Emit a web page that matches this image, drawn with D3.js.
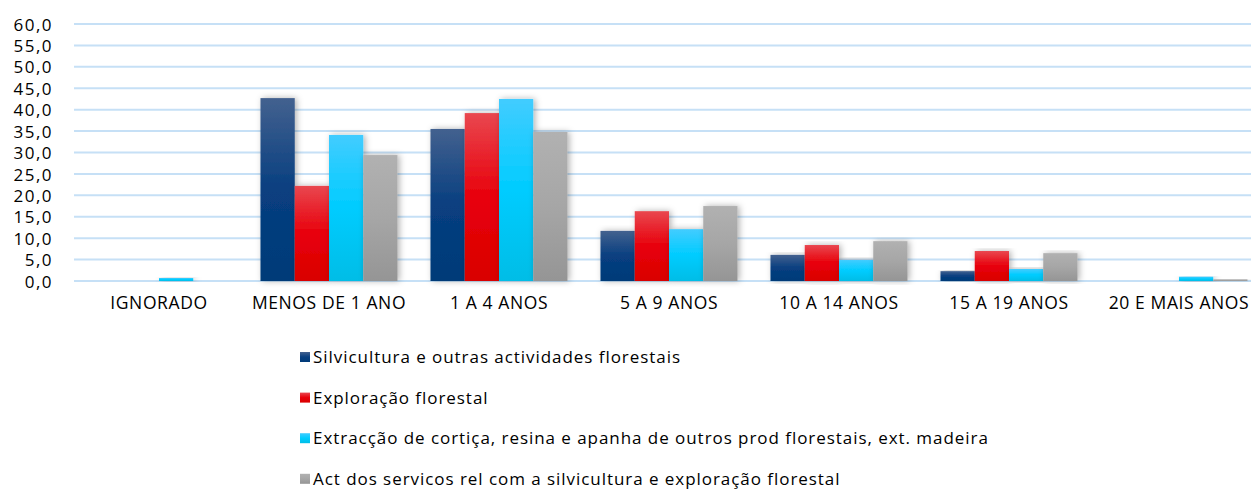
<!DOCTYPE html>
<html lang="pt">
  <head>
    <meta charset="utf-8">
    <script src="https://d3js.org/d3.v7.min.js"></script>
    <style>
      body { margin: 0; background: #fff; }
      text { font-family: "Open Sans", Lato, sans-serif; fill: #000; }
    </style>
  </head>
  <body>
    <script>

    // Data
    var categories = ["IGNORADO", "MENOS DE 1 ANO", "1 A 4 ANOS", "5 A 9 ANOS", "10 A 14 ANOS", "15 A 19 ANOS", "20 E MAIS ANOS"];
    var seriesNames = [
      "Silvicultura e outras actividades florestais",
      "Exploração florestal",
      "Extracção de cortiça, resina e apanha de outros prod florestais, ext. madeira",
      "Act dos servicos rel com a silvicultura e exploração florestal"
    ];
    var silvicultura = [0.0, 42.7, 35.5, 11.7, 6.1, 2.3, 0.0];
    var exploracao   = [0.0, 22.2, 39.2, 16.3, 8.4, 7.0, 0.0];
    var extraccao    = [0.7, 34.1, 42.5, 12.1, 4.9, 2.8, 1.0];
    var servicos     = [0.0, 29.4, 34.8, 17.5, 9.3, 6.5, 0.4];
    var yTicks = [0, 5, 10, 15, 20, 25, 30, 35, 40, 45, 50, 55, 60];

    var seriesValues = [silvicultura, exploracao, extraccao, servicos];

    // Gradient stops per series: top, middle, bottom
    var gradients = [
      ["#43618f", "#083f80", "#003a78"],
      ["#e9474f", "#e8000b", "#d90000"],
      ["#42ccff", "#00ccff", "#00bde6"],
      ["#b1b1b1", "#a6a6a6", "#959595"]
    ];

    var W = 1251, H = 491;
    var svg = d3.select("body").append("svg")
                .attr("width", W)
                .attr("height", H);

    var defs = svg.append("defs");
    gradients.forEach(function(g, i) {
      var lg = defs.append("linearGradient")
                  .attr("id", "grad" + i)
                  .attr("x1", 0).attr("y1", 0)
                  .attr("x2", 0).attr("y2", 1);
      lg.append("stop").attr("offset", "0%").attr("stop-color", g[0]);
      lg.append("stop").attr("offset", "50%").attr("stop-color", g[1]);
      lg.append("stop").attr("offset", "100%").attr("stop-color", g[2]);
    });
    var shadow = defs.append("filter")
                  .attr("id", "shadow")
                  .attr("x", "-30%").attr("y", "-10%")
                  .attr("width", "160%").attr("height", "120%");
    shadow.append("feDropShadow")
            .attr("dx", 2).attr("dy", 0)
            .attr("stdDeviation", 3)
            .attr("flood-color", "#000")
            .attr("flood-opacity", 0.3);

    // Scales
    var plotLeft = 74, plotRight = 1264;
    var yScale = d3.scaleLinear().domain([0, 60]).range([281, 24]);
    var x0 = d3.scaleBand()
                .domain(categories)
                .range([plotLeft, plotRight])
                .paddingInner(0.194)
                .paddingOuter(0.097);
    var x1 = d3.scaleBand()
                .domain(d3.range(seriesNames.length))
                .range([0, x0.bandwidth()]);

    // Gridlines
    svg.append("g")
        .selectAll("line")
        .data(yTicks)
        .enter()
        .append("line")
          .attr("x1", plotLeft)
          .attr("x2", W)
          .attr("y1", function(d) { return yScale(d); })
          .attr("y2", function(d) { return yScale(d); })
          .attr("stroke", "#c6e0f6")
          .attr("stroke-width", 2);

    // Y axis labels
    var yAxis = d3.axisLeft(yScale)
                  .tickValues(yTicks)
                  .tickSize(0)
                  .tickPadding(0)
                  .tickFormat(function(d) { return d3.format(".1f")(d).replace(".", ","); });
    var yG = svg.append("g")
                .attr("transform", "translate(53,0)")
                .call(yAxis);
    yG.select(".domain").remove();
    yG.selectAll("text")
        .attr("font-family", "Lato, sans-serif")
        .style("font-size", "17px")
        .style("letter-spacing", "1.5px")
        .attr("dy", "0.36em");

    // Bars
    var groups = svg.append("g")
                    .selectAll("g")
                    .data(categories)
                    .enter()
                    .append("g")
                      .attr("transform", function(d) { return "translate(" + x0(d) + ",0)"; });

    groups.selectAll("rect")
          .data(function(d, ci) {
            return seriesValues.map(function(vals, si) { return {s: si, v: vals[ci]}; });
          })
          .enter()
          .filter(function(d) { return d.v > 0; })
          .append("rect")
            .attr("x", function(d) { return x1(d.s); })
            .attr("y", function(d) { return yScale(d.v); })
            .attr("width", x1.bandwidth())
            .attr("height", function(d) { return yScale(0) - yScale(d.v); })
            .attr("fill", function(d) { return "url(#grad" + d.s + ")"; })
            .attr("filter", "url(#shadow)");

    // X axis labels
    var xAxis = d3.axisBottom(x0).tickSize(0).tickPadding(0);
    var xG = svg.append("g")
                .attr("transform", "translate(0,297)")
                .call(xAxis);
    xG.select(".domain").remove();
    xG.selectAll("text")
        .attr("font-family", "'Open Sans', sans-serif")
        .style("font-size", "17.5px")
        .style("letter-spacing", "0.6px");

    // Legend (rows squeezed a little so the last one stays inside the frame)
    var legend = svg.append("g")
                    .selectAll("g")
                    .data(seriesNames)
                    .enter()
                    .append("g")
                      .attr("transform", function(d, i) { return "translate(300," + (357 + i * 40.6) + ")"; });
    legend.append("rect")
            .attr("x", 0)
            .attr("y", -5)
            .attr("width", 10)
            .attr("height", 10)
            .attr("fill", function(d, i) { return "url(#grad" + i + ")"; });
    legend.append("text")
            .attr("x", 13)
            .attr("dy", "0.36em")
            .style("font-size", "17px")
            .style("letter-spacing", "0.95px")
            .text(function(d) { return d; });
    </script>
  </body>
</html>
